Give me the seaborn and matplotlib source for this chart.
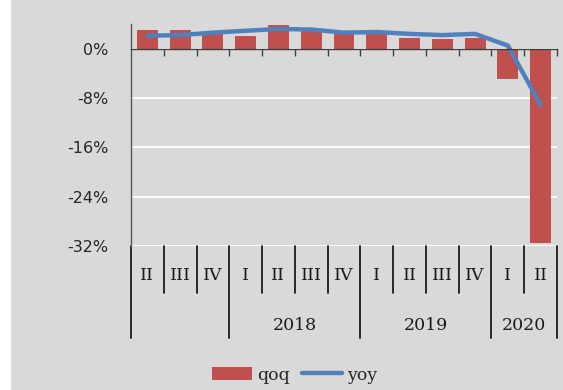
import numpy as np
import pandas as pd
import matplotlib
matplotlib.use("Agg")
import matplotlib.pyplot as plt
import seaborn as sns
from matplotlib.patches import Rectangle, Patch
from matplotlib.lines import Line2D

# Quarterly growth rates, %
quarters = ["II", "III", "IV", "I", "II", "III", "IV", "I", "II", "III", "IV", "I", "II"]
years = [2017, 2017, 2017, 2018, 2018, 2018, 2018, 2019, 2019, 2019, 2019, 2020, 2020]
year_names = {2017: "", 2018: "2018", 2019: "2019", 2020: "2020"}
qoq = [3.0, 3.0, 2.5, 2.0, 3.9, 3.1, 2.3, 2.9, 1.8, 1.6, 1.8, -4.9, -31.5]
yoy = [2.1, 2.2, 2.6, 2.9, 3.2, 3.1, 2.6, 2.7, 2.4, 2.2, 2.4, 0.5, -9.1]
y_ticks = [0, -8, -16, -24, -32]

df = pd.DataFrame({"quarter": quarters, "year": years, "qoq": qoq, "yoy": yoy})
df["pos"] = np.arange(len(df))

BG = "#d9d9d9"
RED = "#c0504d"
BLUE = "#4f81bd"
DARK = "#404040"
SERIF = "DejaVu Serif"

sns.set_theme(style="white")

fig = plt.figure(figsize=(5.63, 3.9), dpi=100, facecolor="white")
fig.patches.append(Rectangle((11 / 563, 0), 1, 1, transform=fig.transFigure,
                             facecolor=BG, edgecolor="none", zorder=-10))
ax = fig.add_axes([131 / 563, 1 - 246 / 390, 426 / 563, 222 / 390])
ax.set_facecolor(BG)

sns.barplot(data=df, x="pos", y="qoq", color=RED, saturation=1, width=0.64,
            ax=ax, zorder=2, label="qoq", edgecolor="none", linewidth=0)
sns.lineplot(data=df, x="pos", y="yoy", color=BLUE, linewidth=3.2, ax=ax,
             zorder=3, label="yoy", solid_capstyle="round", solid_joinstyle="round")
if ax.get_legend() is not None:
    ax.get_legend().remove()

n = len(df)
ax.set_xlim(-0.5, n - 0.5)
ax.set_ylim(-32, 4)
ax.set_xlabel("")
ax.set_ylabel("")

# y axis
ax.set_yticks(y_ticks)
ax.set_yticklabels([f"{v}%" for v in y_ticks], fontsize=11.5, color="#262626")
ax.tick_params(axis="y", length=0, pad=16)
ax.yaxis.grid(True, color="white", linewidth=1.3)
ax.set_axisbelow(True)

for side in ("top", "right"):
    ax.spines[side].set_visible(False)
ax.spines["left"].set_color("#595959")
ax.spines["left"].set_linewidth(1.0)
ax.spines["bottom"].set_position(("data", 0))
ax.spines["bottom"].set_color(DARK)
ax.spines["bottom"].set_linewidth(1.0)
ax.spines["bottom"].set_zorder(4)

# category boundary ticks on the zero line
ax.set_xticks(np.arange(0.5, n, 1.0))
ax.tick_params(axis="x", direction="out", length=5, width=1.0, color=DARK,
               labelbottom=False, bottom=True)

# two-level category labels below the plot area
trans = ax.get_xaxis_transform()
for i, q in enumerate(quarters):
    ax.text(i, -0.135, q, transform=trans, ha="center", va="center",
            fontfamily=SERIF, fontsize=12.5, color="#1a1a1a")

year_edges = [-0.5] + [i + 0.5 for i in range(n - 1) if years[i] != years[i + 1]] + [n - 0.5]
for b in np.arange(-0.5, n, 1.0):
    long_line = any(abs(b - e) < 1e-9 for e in year_edges)
    ax.plot([b, b], [0, -0.414 if long_line else -0.212], transform=trans,
            clip_on=False, color="#1a1a1a", linewidth=1.3)

for y in sorted(set(years)):
    idx = [i for i, v in enumerate(years) if v == y]
    ax.text(np.mean(idx), -0.356, year_names[y], transform=trans, ha="center",
            va="center", fontfamily=SERIF, fontsize=12.5, color="#1a1a1a")

handles = [Patch(facecolor=RED, edgecolor="none"),
           Line2D([0], [0], color=BLUE, linewidth=3.2, solid_capstyle="round")]
fig.legend(handles, ["qoq", "yoy"], loc="center", bbox_to_anchor=(295 / 563, 1 - 375 / 390),
           ncol=2, frameon=False, handlelength=2.3, handleheight=0.7, handletextpad=0.3,
           columnspacing=0.7, prop={"family": SERIF, "size": 12.5})

fig.savefig("out.png", dpi=100, facecolor=fig.get_facecolor())
